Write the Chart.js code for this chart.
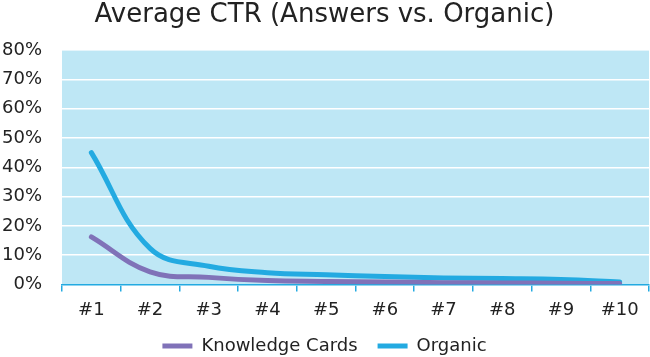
<!DOCTYPE html>
<html><head><meta charset="utf-8">
<script src="https://cdn.jsdelivr.net/npm/chart.js@4"></script>
<style>html,body{margin:0;padding:0;background:#fff}#w{width:650px;height:357px}</style>
</head><body><div id="w"><canvas id="c"></canvas></div>
<script>
const categories = ['#1','#2','#3','#4','#5','#6','#7','#8','#9','#10'];
const knowledgeCards = [16.2, 4.3, 2.4, 1.3, 1.0, 0.8, 0.6, 0.5, 0.4, 0.3];
const organic = [45, 12.3, 6.2, 4.0, 3.3, 2.7, 2.2, 2.0, 1.7, 0.8];
const yTicks = [0,10,20,30,40,50,60,70,80];

const bgPlugin = {
  id:'bg',
  beforeDraw(chart){
    const {ctx, chartArea:a} = chart;
    ctx.save(); ctx.fillStyle='#bee7f5';
    ctx.fillRect(a.left, a.top, a.right-a.left, a.bottom-a.top);
    ctx.restore();
  }
};
const FONT = "'DejaVu Sans', sans-serif";
new Chart(document.getElementById('c'), {
  type:'line',
  data:{labels:categories, datasets:[
    {label:'Knowledge Cards', data:knowledgeCards, borderColor:'#8072b8', backgroundColor:'#8072b8', borderWidth:5, tension:0.4, pointRadius:0, borderCapStyle:'round'},
    {label:'Organic', data:organic, borderColor:'#23aae1', backgroundColor:'#23aae1', borderWidth:5, tension:0.4, pointRadius:0, borderCapStyle:'round'}
  ]},
  options:{
    responsive:true, maintainAspectRatio:false, animation:false,
    layout:{padding:{left:0,right:1,top:0,bottom:0}},
    plugins:{
      title:{display:true, text:'Average CTR (Answers vs. Organic)', color:'#222', font:{family:FONT, size:26, weight:'normal'}, padding:{top:0,bottom:19}},
      legend:{position:'bottom', maxHeight:40, labels:{usePointStyle:true, pointStyle:'line', pointStyleWidth:30, boxWidth:30, color:'#222', font:{family:FONT,size:18}, padding:20}},
      tooltip:{enabled:false}
    },
    scales:{
      x:{offset:true,
        afterFit(ax){ ax.height = ax.height - 12; },
        grid:{offset:true, drawOnChartArea:false, drawTicks:true, tickLength:7, color:'#23aae1', lineWidth:1.5},
        border:{display:true, color:'#23aae1', width:1.5},
        ticks:{color:'#222', font:{family:FONT,size:18}, padding:8}},
      y:{min:0,max:80,
        afterBuildTicks(ax){ax.ticks = yTicks.map(v=>({value:v}));},
        afterFit(ax){ax.width = 62;},
        grid:{color:'#ffffff', lineWidth:1.5, drawTicks:false},
        border:{display:false},
        ticks:{color:'#222', font:{family:FONT,size:18}, padding:20, callback:v=>v+'%'}}
    }
  },
  plugins:[bgPlugin]
});
</script></body></html>
